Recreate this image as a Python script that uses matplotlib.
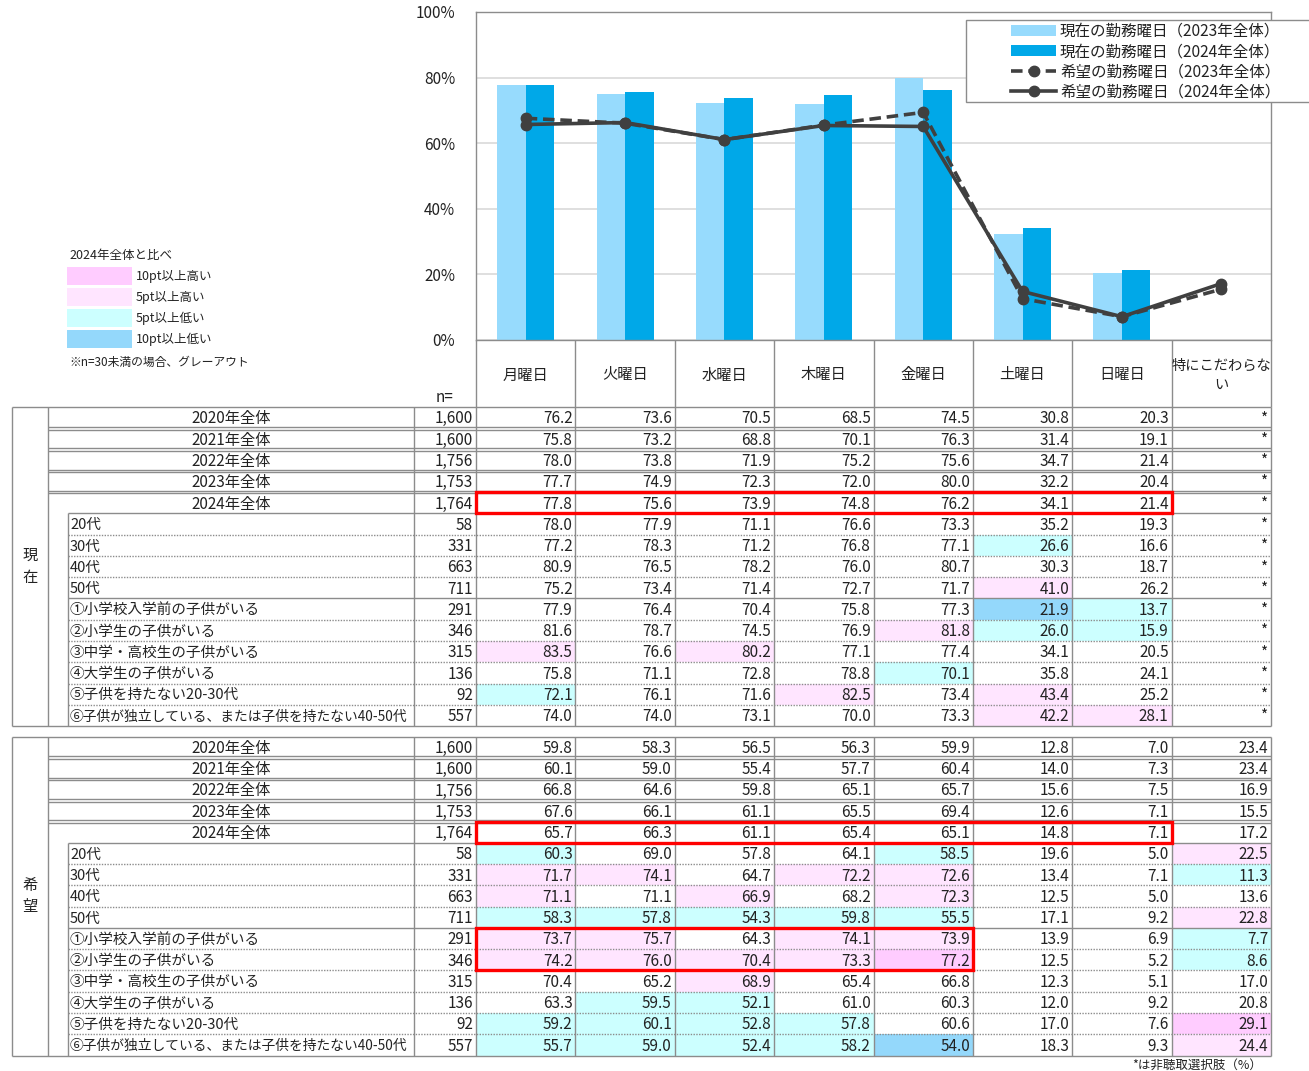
import numpy as np
import matplotlib
matplotlib.use("Agg")
import matplotlib.pyplot as plt
from matplotlib.patches import Rectangle

plt.rcParams['font.family'] = ['Noto Sans CJK JP', 'DejaVu Sans']

# ---- data ----
days = ["月曜日", "火曜日", "水曜日", "木曜日", "金曜日", "土曜日", "日曜日", "特にこだわらな\nい"]

row_labels = ["2020年全体", "2021年全体", "2022年全体", "2023年全体", "2024年全体",
              "20代", "30代", "40代", "50代",
              "①小学校入学前の子供がいる", "②小学生の子供がいる", "③中学・高校生の子供がいる",
              "④大学生の子供がいる", "⑤子供を持たない20-30代", "⑥子供が独立している、または子供を持たない40-50代"]
n_values = [1600, 1600, 1756, 1753, 1764, 58, 331, 663, 711, 291, 346, 315, 136, 92, 557]

current = [
    [76.2, 73.6, 70.5, 68.5, 74.5, 30.8, 20.3, None],
    [75.8, 73.2, 68.8, 70.1, 76.3, 31.4, 19.1, None],
    [78.0, 73.8, 71.9, 75.2, 75.6, 34.7, 21.4, None],
    [77.7, 74.9, 72.3, 72.0, 80.0, 32.2, 20.4, None],
    [77.8, 75.6, 73.9, 74.8, 76.2, 34.1, 21.4, None],
    [78.0, 77.9, 71.1, 76.6, 73.3, 35.2, 19.3, None],
    [77.2, 78.3, 71.2, 76.8, 77.1, 26.6, 16.6, None],
    [80.9, 76.5, 78.2, 76.0, 80.7, 30.3, 18.7, None],
    [75.2, 73.4, 71.4, 72.7, 71.7, 41.0, 26.2, None],
    [77.9, 76.4, 70.4, 75.8, 77.3, 21.9, 13.7, None],
    [81.6, 78.7, 74.5, 76.9, 81.8, 26.0, 15.9, None],
    [83.5, 76.6, 80.2, 77.1, 77.4, 34.1, 20.5, None],
    [75.8, 71.1, 72.8, 78.8, 70.1, 35.8, 24.1, None],
    [72.1, 76.1, 71.6, 82.5, 73.4, 43.4, 25.2, None],
    [74.0, 74.0, 73.1, 70.0, 73.3, 42.2, 28.1, None],
]

hope = [
    [59.8, 58.3, 56.5, 56.3, 59.9, 12.8, 7.0, 23.4],
    [60.1, 59.0, 55.4, 57.7, 60.4, 14.0, 7.3, 23.4],
    [66.8, 64.6, 59.8, 65.1, 65.7, 15.6, 7.5, 16.9],
    [67.6, 66.1, 61.1, 65.5, 69.4, 12.6, 7.1, 15.5],
    [65.7, 66.3, 61.1, 65.4, 65.1, 14.8, 7.1, 17.2],
    [60.3, 69.0, 57.8, 64.1, 58.5, 19.6, 5.0, 22.5],
    [71.7, 74.1, 64.7, 72.2, 72.6, 13.4, 7.1, 11.3],
    [71.1, 71.1, 66.9, 68.2, 72.3, 12.5, 5.0, 13.6],
    [58.3, 57.8, 54.3, 59.8, 55.5, 17.1, 9.2, 22.8],
    [73.7, 75.7, 64.3, 74.1, 73.9, 13.9, 6.9, 7.7],
    [74.2, 76.0, 70.4, 73.3, 77.2, 12.5, 5.2, 8.6],
    [70.4, 65.2, 68.9, 65.4, 66.8, 12.3, 5.1, 17.0],
    [63.3, 59.5, 52.1, 61.0, 60.3, 12.0, 9.2, 20.8],
    [59.2, 60.1, 52.8, 57.8, 60.6, 17.0, 7.6, 29.1],
    [55.7, 59.0, 52.4, 58.2, 54.0, 18.3, 9.3, 24.4],
]

# chart series
bar_2023 = current[3][:7]
bar_2024 = current[4][:7]
line_2023 = hope[3]
line_2024 = hope[4]

C_BAR23 = "#97DBFD"
C_BAR24 = "#00A8E8"
C_LINE = "#404040"
C_P10 = "#FFCCFF"
C_P5 = "#FFE5FF"
C_C5 = "#CCFFFF"
C_C10 = "#94D8FB"
C_GRID = "#8C8C8C"
C_TXT = "#222222"
FS = 11

W, H = 1309, 1071
fig = plt.figure(figsize=(W / 100, H / 100), dpi=100)

# ---- table canvas (pixel coords) ----
ax_t = fig.add_axes([0, 0, 1, 1])
ax_t.set_xlim(0, W)
ax_t.set_ylim(H, 0)
ax_t.axis("off")

col_x = np.linspace(476, 1271, 9)
x_group, x_inner, x_sub, x_n = 12, 48, 68, 414
row_h = 21.27
tops = [407, 736.5]
dy = 1.3  # nudge text to the optical middle of a row


def hline(y, x0, x1, dotted=False, lw=1.0):
    ls = (0, (1, 1)) if dotted else "-"
    ax_t.plot([x0, x1], [y, y], color=C_GRID, lw=lw, ls=ls, solid_capstyle="butt")


def vline(x, y0, y1, lw=1.0):
    ax_t.plot([x, x], [y0, y1], color=C_GRID, lw=lw, solid_capstyle="butt")


def cell_color(v, base):
    # compared with the 2024 total row
    if v is None:
        return None
    d = round(v - base, 1)
    if d > 10:
        return C_P10
    if d >= 5:
        return C_P5
    if d < -10:
        return C_C10
    if d <= -5:
        return C_C5
    return None


# header
for x in col_x:
    vline(x, 340, tops[0])
for i, d in enumerate(days):
    cx = (col_x[i] + col_x[i + 1]) / 2
    ax_t.text(cx, 375, d, ha="center", va="center", fontsize=FS if i < 7 else 10.3,
              color=C_TXT, linespacing=1.5)
ax_t.text(445, 398, "n=", ha="center", va="center", fontsize=FS, color=C_TXT)

for g, (top, data, gname) in enumerate([(tops[0], current, "現\n在"), (tops[1], hope, "希\n望")]):
    bottom = top + row_h * len(row_labels)
    base = data[4]
    # cell fills
    for r, vals in enumerate(data):
        y0 = top + r * row_h
        if r >= 5:
            for c, v in enumerate(vals):
                col = cell_color(v, base[c])
                if col:
                    ax_t.add_patch(Rectangle((col_x[c], y0), col_x[c + 1] - col_x[c], row_h,
                                             facecolor=col, edgecolor="none", zorder=0))
    # horizontal lines
    hline(top, x_group, 1271)
    hline(bottom, x_group, 1271)
    for r in range(1, 5):
        y = top + r * row_h
        hline(y - 1.3, x_inner, 1271)
        hline(y + 1.3, x_inner, 1271)
    for r in range(5, 15):
        y = top + r * row_h
        hline(y, x_sub, 1271, dotted=(r not in (5, 9)))
    # vertical lines
    vline(x_group, top, bottom)
    vline(x_inner, top, bottom)
    vline(x_sub, top + 5 * row_h, bottom)
    for x in [x_n] + list(col_x):
        vline(x, top, bottom)
    # texts
    ax_t.text((x_group + x_inner) / 2, (top + bottom) / 2, gname, ha="center", va="center",
              fontsize=FS, color=C_TXT, linespacing=1.35)
    for r, lab in enumerate(row_labels):
        cy = top + (r + 0.5) * row_h + dy
        if r < 5:
            ax_t.text((x_inner + x_n) / 2, cy, lab, ha="center", va="center", fontsize=FS, color=C_TXT)
        else:
            fs = 9.9 if r == 14 else 10.5
            ax_t.text(x_sub + 2, cy, lab, ha="left", va="center", fontsize=fs, color=C_TXT)
        ax_t.text(x_n + 59, cy, f"{n_values[r]:,}", ha="right", va="center", fontsize=FS, color=C_TXT)
        for c, v in enumerate(data[r]):
            s = "*" if v is None else f"{v:.1f}"
            ax_t.text(col_x[c + 1] - 3, cy, s, ha="right", va="center", fontsize=FS, color=C_TXT)
    # red boxes
    ax_t.add_patch(Rectangle((col_x[0], top + 4 * row_h), col_x[7] - col_x[0], row_h,
                             facecolor="none", edgecolor="#FF0000", lw=2.4, zorder=5))
    if g == 1:
        ax_t.add_patch(Rectangle((col_x[0], top + 9 * row_h), col_x[5] - col_x[0], 2 * row_h,
                                 facecolor="none", edgecolor="#FF0000", lw=2.4, zorder=5))

ax_t.text(1262, 1065, "*は非聴取選択肢（%）", ha="right", va="center", fontsize=9, color=C_TXT)

# colour key on the left
ax_t.text(69, 256, "2024年全体と比べ", ha="left", va="center", fontsize=9, color=C_TXT)
key = [(C_P10, "10pt以上高い"), (C_P5, "5pt以上高い"), (C_C5, "5pt以上低い"), (C_C10, "10pt以上低い")]
for i, (col, lab) in enumerate(key):
    y0 = 267 + i * 21
    ax_t.add_patch(Rectangle((67, y0), 65, 18, facecolor=col, edgecolor="none"))
    ax_t.text(136, y0 + 9.5, lab, ha="left", va="center", fontsize=9, color=C_TXT)
ax_t.text(69, 362, "※n=30未満の場合、グレーアウト", ha="left", va="center", fontsize=8.5, color=C_TXT)

# ---- chart ----
ax = fig.add_axes([476 / W, 1 - 340 / H, (1271 - 476) / W, (340 - 12) / H])
x = np.arange(len(days))
bw = 0.287
b1 = ax.bar(x[:7] - bw / 2, bar_2023, width=bw, color=C_BAR23, zorder=2)
b2 = ax.bar(x[:7] + bw / 2, bar_2024, width=bw, color=C_BAR24, zorder=2)
l1, = ax.plot(x, line_2023, color=C_LINE, lw=2.6, ls=(0, (3.2, 1.6)), marker="o", ms=7.5, zorder=3)
l2, = ax.plot(x, line_2024, color=C_LINE, lw=2.6, marker="o", ms=7.5, zorder=4)
ax.set_xlim(-0.5, 7.5)
ax.set_ylim(0, 100)
ax.set_yticks(range(0, 101, 20))
ax.set_yticklabels([f"{v}%" for v in range(0, 101, 20)], fontsize=11, color=C_TXT)
ax.set_xticks([])
ax.tick_params(axis="y", length=0, pad=15)
ax.grid(axis="y", color="#D9D9D9", lw=1.2, zorder=0)
ax.set_axisbelow(True)
for sp in ax.spines.values():
    sp.set_color(C_GRID)
    sp.set_linewidth(1.0)
ax.patch.set_alpha(0)

# legend: frame runs off the right edge of the figure
fig.add_artist(Rectangle((966 / W, 1 - 102 / H), (1320 - 966) / W, 82 / H, transform=fig.transFigure,
                         facecolor="white", edgecolor=C_GRID, lw=1.0, zorder=4))
leg = fig.legend([b1, b2, l1, l2],
                 ["現在の勤務曜日（2023年全体）", "現在の勤務曜日（2024年全体）",
                  "希望の勤務曜日（2023年全体）", "希望の勤務曜日（2024年全体）"],
                 loc="upper left", bbox_to_anchor=(1011 / W, 1 - 23 / H), fontsize=11.2,
                 frameon=False, handlelength=2.9, handletextpad=0.25, borderpad=0,
                 labelspacing=0.21, borderaxespad=0)
leg.set_zorder(5)
for t in leg.get_texts():
    t.set_color(C_TXT)

fig.savefig("out.png", dpi=100)
